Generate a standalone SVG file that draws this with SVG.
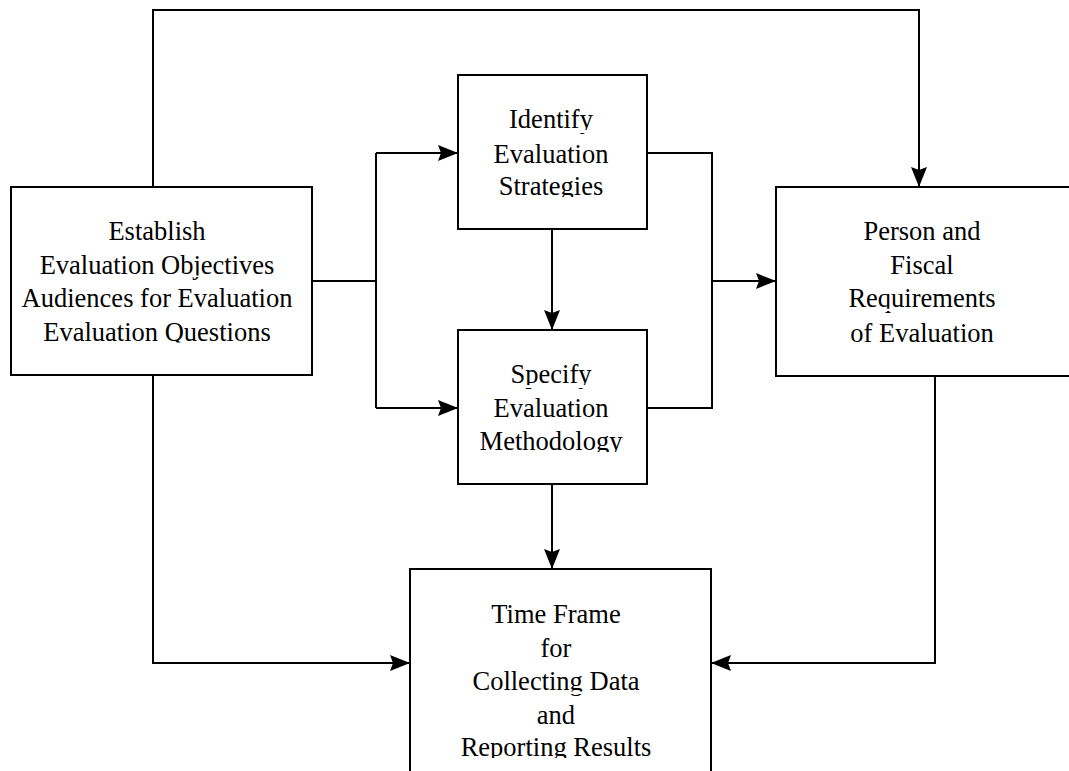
<svg xmlns="http://www.w3.org/2000/svg" width="1069" height="771" viewBox="0 0 1069 771">
<style>
.box{fill:#fff;stroke:#000;stroke-width:2}
.ln{fill:none;stroke:#000;stroke-width:2}
.t{font-family:'Liberation Serif','Times New Roman',serif;font-size:26.5px;fill:#000;text-anchor:middle}
</style>
<defs>
<marker id="arr" markerUnits="userSpaceOnUse" markerWidth="22" markerHeight="18" refX="20" refY="9" orient="auto">
<path d="M0,1 L20,9 L0,17 L3,9 z" fill="#000"/>
</marker>
<clipPath id="cL"><rect x="0" y="210" width="330" height="32"/><rect x="0" y="243.5" width="330" height="32"/><rect x="0" y="277" width="330" height="32"/><rect x="0" y="310.5" width="330" height="32"/></clipPath>
<clipPath id="cI"><rect x="450" y="100" width="210" height="30"/><rect x="450" y="133" width="210" height="31.5"/><rect x="450" y="166" width="210" height="31"/></clipPath>
<clipPath id="cS"><rect x="450" y="354" width="210" height="31"/><rect x="450" y="388" width="210" height="31"/><rect x="450" y="421" width="210" height="31"/></clipPath>
<clipPath id="cR"><rect x="770" y="210" width="300" height="32"/><rect x="770" y="244" width="300" height="32"/><rect x="770" y="277" width="300" height="31.7"/><rect x="770" y="311" width="300" height="32.5"/></clipPath>
<clipPath id="cB"><rect x="400" y="594" width="320" height="31"/><rect x="400" y="627" width="320" height="32"/><rect x="400" y="660" width="320" height="31.5"/><rect x="400" y="694" width="320" height="31.5"/><rect x="400" y="727" width="320" height="31"/></clipPath>
</defs>
<g id="connectors">
<polyline class="ln" points="153,187 153,10 919,10 919,187" marker-end="url(#arr)"/>
<polyline class="ln" points="312,281 376,281"/>
<polyline class="ln" points="376,153 376,408"/>
<polyline class="ln" points="376,153 458,153" marker-end="url(#arr)"/>
<polyline class="ln" points="376,408 458,408" marker-end="url(#arr)"/>
<polyline class="ln" points="552,229 552,330" marker-end="url(#arr)"/>
<polyline class="ln" points="647,153 712,153 712,408 647,408"/>
<polyline class="ln" points="712,281 776,281" marker-end="url(#arr)"/>
<polyline class="ln" points="552,484 552,569" marker-end="url(#arr)"/>
<polyline class="ln" points="153,375 153,663 410,663" marker-end="url(#arr)"/>
<polyline class="ln" points="935,376 935,663 711,663" marker-end="url(#arr)"/>
</g>
<g id="establish">
<rect class="box" x="11" y="187" width="301" height="188"/>
<g clip-path="url(#cL)">
<text class="t" x="157" y="240">Establish</text>
<text class="t" x="157" y="273.5">Evaluation Objectives</text>
<text class="t" x="157" y="307">Audiences for Evaluation</text>
<text class="t" x="157" y="340.5">Evaluation Questions</text>
</g>
</g>
<g id="identify">
<rect class="box" x="458" y="75" width="189" height="154"/>
<g clip-path="url(#cI)">
<text class="t" x="551" y="128.3">Identify</text>
<text class="t" x="551" y="162.5">Evaluation</text>
<text class="t" x="551" y="195">Strategies</text>
</g>
</g>
<g id="specify">
<rect class="box" x="458" y="330" width="189" height="154"/>
<g clip-path="url(#cS)">
<text class="t" x="551" y="383">Specify</text>
<text class="t" x="551" y="417">Evaluation</text>
<text class="t" x="551" y="450">Methodology</text>
</g>
</g>
<g id="person">
<rect class="box" x="776" y="187" width="310" height="189"/>
<g clip-path="url(#cR)">
<text class="t" x="922" y="240">Person and</text>
<text class="t" x="922" y="274">Fiscal</text>
<text class="t" x="922" y="306.7">Requirements</text>
<text class="t" x="922" y="341.5">of Evaluation</text>
</g>
</g>
<g id="timeframe">
<rect class="box" x="410" y="569" width="301" height="240"/>
<g clip-path="url(#cB)">
<text class="t" x="556" y="623.3">Time Frame</text>
<text class="t" x="556" y="657">for</text>
<text class="t" x="556" y="689.5">Collecting Data</text>
<text class="t" x="556" y="723.5">and</text>
<text class="t" x="556" y="756">Reporting Results</text>
</g>
</g>
</svg>
